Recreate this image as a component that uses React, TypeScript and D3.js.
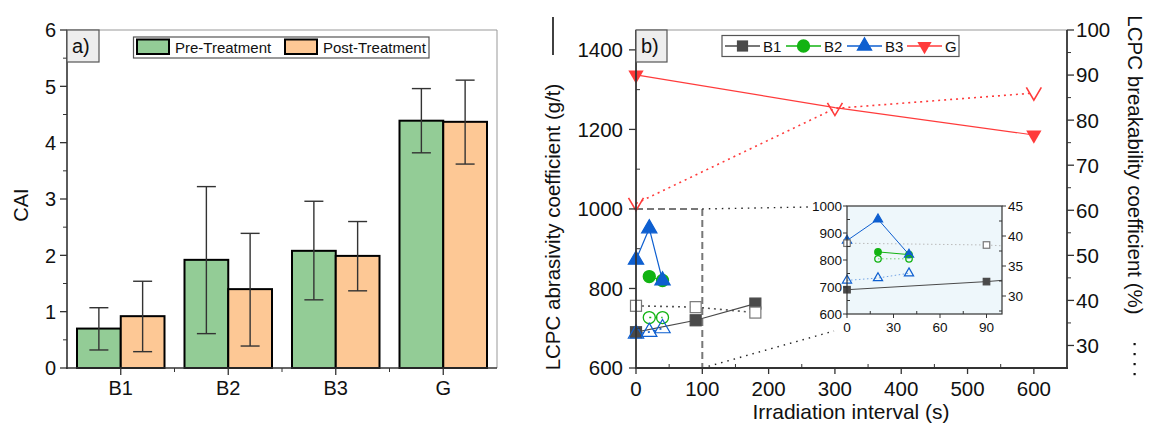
import React from 'react';
import * as d3 from 'd3';

// panel a) CAI bars
const categories = ['B1', 'B2', 'B3', 'G'];
const preCAI = [0.7, 1.92, 2.08, 4.39];
const postCAI = [0.92, 1.4, 1.99, 4.37];
const preLow = [0.32, 0.61, 1.21, 3.82];
const preHigh = [1.07, 3.22, 2.96, 4.96];
const postLow = [0.29, 0.39, 1.37, 3.62];
const postHigh = [1.54, 2.39, 2.6, 5.11];
const caiTicks = [0, 1, 2, 3, 4, 5, 6];

// panel b) LCPC vs irradiation interval
const b1Time = [0, 90, 180];
const b1Abr = [690, 720, 762];
const b1Brk = [38.8, 38.5, 37.3];
const b2Time = [20, 40];
const b2Abr = [830, 820];
const b2Brk = [36.2, 36.2];
const b3Time = [0, 20, 40];
const b3Abr = [872, 951, 820];
const b3Brk = [32.6, 33.0, 33.8];
const gTime = [0, 300, 600];
const gAbr = [1337, 1255, 1186];
const gBrk = [61.5, 82.6, 86.0];

const timeTicks = [0, 100, 200, 300, 400, 500, 600];
const abrTicks = [600, 800, 1000, 1200, 1400];
const brkTicks = [30, 40, 50, 60, 70, 80, 90, 100];
const insetTimeTicks = [0, 30, 60, 90];
const insetAbrTicks = [600, 700, 800, 900, 1000];
const insetBrkTicks = [30, 35, 40, 45];

const FONT = '"Liberation Sans", Arial, Helvetica, sans-serif';
const INK = '#111';
const GREEN_FILL = '#93cc96';
const ORANGE_FILL = '#fdc895';
const C_B1 = '#4a4a4a';
const C_B2 = '#12b312';
const C_B3 = '#0e5fd0';
const C_G = '#ff3b3b';

const symPath = (type: any, size: number) => d3.symbol().type(type).size(size)() as string;
const vPath = (s: number) => `M${-s},${-s * 0.75}L0,${s * 0.95}L${s},${-s * 0.75}`;

const series = [
  { name: 'B1', t: b1Time, abr: b1Abr, brk: b1Brk, color: C_B1, shape: 'square' },
  { name: 'B2', t: b2Time, abr: b2Abr, brk: b2Brk, color: C_B2, shape: 'circle' },
  { name: 'B3', t: b3Time, abr: b3Abr, brk: b3Brk, color: C_B3, shape: 'up' },
  { name: 'G', t: gTime, abr: gAbr, brk: gBrk, color: C_G, shape: 'down' },
];

function Marker({ shape, x, y, color, filled, s }: any) {
  const tr = `translate(${x},${y})`;
  if (shape === 'square') {
    return <rect x={x - s / 2} y={y - s / 2} width={s} height={s}
      fill={filled ? color : '#fff'} stroke={filled ? color : '#777'} strokeWidth={1.2} />;
  }
  if (shape === 'circle') {
    return <circle cx={x} cy={y} r={s / 2} fill={filled ? color : 'none'} stroke={color} strokeWidth={1.3} />;
  }
  if (shape === 'up') {
    return <path transform={tr} d={symPath(d3.symbolTriangle, s * s * 0.45)}
      fill={filled ? color : 'none'} stroke={color} strokeWidth={1.2} />;
  }
  if (filled) {
    return <path transform={`${tr} rotate(180)`} d={symPath(d3.symbolTriangle, s * s * 0.45)} fill={color} />;
  }
  return <path transform={tr} d={vPath(s / 2)} fill="none" stroke={color} strokeWidth={1.6} />;
}

function PanelA() {
  const x = d3.scaleBand().domain(categories).range([67, 497]).padding(0);
  const sub = d3.scaleBand().domain(['pre', 'post']).range([10, x.bandwidth() - 10]);
  const y = d3.scaleLinear().domain([0, 6]).range([368, 30]);
  const minor = d3.range(0.5, 6, 1);
  const groups = [
    { key: 'pre', vals: preCAI, lo: preLow, hi: preHigh, fill: GREEN_FILL },
    { key: 'post', vals: postCAI, lo: postLow, hi: postHigh, fill: ORANGE_FILL },
  ];
  return (
    <g>
      <line x1={67} x2={497} y1={30} y2={30} stroke="#999" />
      <line x1={497} x2={497} y1={30} y2={368} stroke="#999" />
      {groups.map(g => categories.map((c, i) => {
        const bx = (x(c) as number) + (sub(g.key) as number);
        const bw = sub.bandwidth();
        const cx = bx + bw / 2;
        return (
          <g key={g.key + c}>
            <rect x={bx} y={y(g.vals[i])} width={bw} height={y(0) - y(g.vals[i])}
              fill={g.fill} stroke="#000" strokeWidth={2} />
            <g stroke="#333" strokeWidth={1.4}>
              <line x1={cx} x2={cx} y1={y(g.lo[i])} y2={y(g.hi[i])} />
              <line x1={cx - 9.5} x2={cx + 9.5} y1={y(g.lo[i])} y2={y(g.lo[i])} />
              <line x1={cx - 9.5} x2={cx + 9.5} y1={y(g.hi[i])} y2={y(g.hi[i])} />
            </g>
          </g>
        );
      }))}
      {/* axes */}
      <line x1={67} x2={67} y1={30} y2={369} stroke="#333" strokeWidth={1.6} />
      <line x1={66} x2={497} y1={368} y2={368} stroke="#333" strokeWidth={1.6} />
      {caiTicks.map(t => (
        <g key={t}>
          <line x1={60} x2={67} y1={y(t)} y2={y(t)} stroke="#333" strokeWidth={1.3} />
          <text x={56} y={y(t)} dy="0.36em" textAnchor="end" fontSize={20} fill={INK}>{t}</text>
        </g>
      ))}
      {minor.map(t => <line key={t} x1={63} x2={67} y1={y(t)} y2={y(t)} stroke="#333" strokeWidth={1} />)}
      {categories.map(c => {
        const cx = (x(c) as number) + x.bandwidth() / 2;
        return (
          <g key={c}>
            <line x1={cx} x2={cx} y1={368} y2={375} stroke="#333" strokeWidth={1.3} />
            <text x={cx} y={388} dy="0.36em" textAnchor="middle" fontSize={20} fill={INK}>{c}</text>
          </g>
        );
      })}
      {categories.slice(1).map(c => (
        <line key={c} x1={x(c)} x2={x(c)} y1={368} y2={372} stroke="#333" strokeWidth={1} />
      ))}
      <text transform={`translate(28,205) rotate(-90)`} textAnchor="middle" fontSize={20} fill={INK}>CAI</text>
      {/* a) tag */}
      <rect x={67} y={30} width={32} height={32} fill="#eeeeee" stroke="#555" strokeWidth={1.2} />
      <text x={72} y={53} fontSize={20} fill={INK}>a)</text>
      {/* legend */}
      <rect x={133.5} y={37} width={295.5} height={21} fill="#fff" stroke="#555" strokeWidth={1.2} />
      <rect x={137} y={39.5} width={32} height={14.5} fill={GREEN_FILL} stroke="#000" strokeWidth={2} />
      <text x={175} y={53} fontSize={15} fill={INK}>Pre-Treatment</text>
      <rect x={285} y={39.5} width={32} height={14.5} fill={ORANGE_FILL} stroke="#000" strokeWidth={2} />
      <text x={323} y={53} fontSize={15} fill={INK}>Post-Treatment</text>
    </g>
  );
}

function PanelB() {
  const x = d3.scaleLinear().domain([0, 650]).range([636, 1067]);
  const yA = d3.scaleLinear().domain([600, 1450]).range([368, 30]);
  const yB = d3.scaleLinear().domain([25, 100]).range([368, 30]);
  const xi = d3.scaleLinear().domain([0, 100]).range([847, 1002]);
  const yiA = d3.scaleLinear().domain([600, 1000]).range([314, 206]);
  const yiB = d3.scaleLinear().domain([27, 45]).range([314, 206]);

  const pts = (t: number[], v: number[]) => t.map((tt, i) => [tt, v[i]] as [number, number]);
  const mainLine = (sx: any, sy: any) => d3.line<[number, number]>().x(d => sx(d[0])).y(d => sy(d[1]));

  const mainSeries = series.map(s => ({
    ...s,
    abrPts: pts(s.t, s.abr),
    brkPts: pts(s.t, s.brk),
  }));

  const inDom = (sx: any, sy: any, p: [number, number]) => {
    const [dx0, dx1] = sx.domain();
    const [dy0, dy1] = sy.domain();
    return p[0] >= dx0 && p[0] <= dx1 && p[1] >= dy0 && p[1] <= dy1;
  };

  const legendX = [725, 786, 847, 907];

  return (
    <g>
      {/* frame */}
      <line x1={636} x2={1067} y1={30} y2={30} stroke="#999" />

      {/* zoom box and connectors */}
      <g stroke="#777" strokeWidth={2} strokeDasharray="7 4" fill="none">
        <line x1={x(0)} x2={x(100)} y1={yA(1000)} y2={yA(1000)} />
        <line x1={x(100)} x2={x(100)} y1={yA(1000)} y2={yA(600)} />
      </g>
      <g stroke="#222" strokeWidth={1.4} strokeDasharray="1.5 5" fill="none">
        <line x1={x(100)} x2={810} y1={yA(1000)} y2={207} />
        <line x1={x(100)} x2={834} y1={yA(600)} y2={331} />
      </g>

      {/* breakability: dotted + open markers */}
      {mainSeries.map(s => (
        <path key={'bl' + s.name} d={mainLine(x, yB)(s.brkPts) as string} fill="none"
          stroke={s.name === 'B1' ? '#555' : s.color} strokeWidth={1.6} strokeDasharray="2 4" />
      ))}
      {/* abrasivity: solid + filled markers */}
      {mainSeries.map(s => (
        <path key={'al' + s.name} d={mainLine(x, yA)(s.abrPts) as string} fill="none"
          stroke={s.color} strokeWidth={1.2} />
      ))}
      {mainSeries.map(s => s.abrPts.map((p, i) => (
        (s.name === 'G' && i === 1) ? null :
        <Marker key={'am' + s.name + i} shape={s.shape} x={x(p[0])} y={yA(p[1])} color={s.color} filled s={s.shape === 'circle' ? 12 : (s.shape === 'square' ? 11 : 15)} />
      )))}
      {mainSeries.map(s => s.brkPts.map((p, i) => (
        <Marker key={'bm' + s.name + i} shape={s.shape} x={x(p[0])} y={yB(p[1])} color={s.color} filled={false} s={s.shape === 'circle' ? 12 : (s.shape === 'square' ? 11 : 15)} />
      )))}

      {/* axes */}
      <line x1={636} x2={636} y1={30} y2={369} stroke="#333" strokeWidth={1.8} />
      <line x1={1067} x2={1067} y1={30} y2={369} stroke="#333" strokeWidth={1.8} />
      <line x1={635} x2={1068} y1={368} y2={368} stroke="#333" strokeWidth={1.8} />
      {abrTicks.map(t => (
        <g key={t}>
          <line x1={629} x2={636} y1={yA(t)} y2={yA(t)} stroke="#333" strokeWidth={1.3} />
          <text x={623} y={yA(t)} dy="0.36em" textAnchor="end" fontSize={20.5} fill={INK}>{t}</text>
        </g>
      ))}
      {[700, 900, 1100, 1300].map(t => (
        <line key={t} x1={636} x2={640} y1={yA(t)} y2={yA(t)} stroke="#333" strokeWidth={1} />
      ))}
      {brkTicks.map(t => (
        <g key={t}>
          <line x1={1067} x2={1074} y1={yB(t)} y2={yB(t)} stroke="#333" strokeWidth={1.3} />
          <text x={1076} y={yB(t)} dy="0.36em" textAnchor="start" fontSize={20.5} fill={INK}>{t}</text>
        </g>
      ))}
      {d3.range(35, 100, 10).map(t => (
        <line key={t} x1={1067} x2={1071} y1={yB(t)} y2={yB(t)} stroke="#333" strokeWidth={1} />
      ))}
      {timeTicks.map(t => (
        <g key={t}>
          <line x1={x(t)} x2={x(t)} y1={368} y2={374} stroke="#333" strokeWidth={1.3} />
          <text x={x(t)} y={389} dy="0.36em" textAnchor="middle" fontSize={20.5} fill={INK}>{t}</text>
        </g>
      ))}
      {d3.range(50, 650, 100).map(t => (
        <line key={t} x1={x(t)} x2={x(t)} y1={364} y2={368} stroke="#333" strokeWidth={1} />
      ))}
      <text x={851} y={419} textAnchor="middle" fontSize={21} fill={INK}>Irradiation interval (s)</text>
      <text transform="translate(560,227) rotate(-90)" textAnchor="middle" fontSize={20.5} fill={INK}>
        LCPC abrasivity coefficient (g/t)
      </text>
      <line x1={553} x2={553} y1={17} y2={55} stroke={INK} strokeWidth={1.6} />
      <text transform="translate(1128,165) rotate(90)" textAnchor="middle" fontSize={20.5} fill={INK}>
        LCPC breakability coefficient (%)
      </text>
      {[343, 353, 363, 373].map(d => (
        <rect key={d} x={1133.5} y={d} width={2.2} height={2.2} fill={INK} />
      ))}

      {/* b) tag */}
      <rect x={636} y={30} width={31} height={32} fill="#eeeeee" stroke="#555" strokeWidth={1.2} />
      <text x={641} y={53} fontSize={20} fill={INK}>b)</text>

      {/* legend */}
      <rect x={722} y={35.5} width={237} height={21} fill="#fff" stroke="#555" strokeWidth={1.2} />
      {series.map((s, i) => (
        <g key={s.name}>
          <line x1={legendX[i]} x2={legendX[i] + 35} y1={46} y2={46} stroke={s.color} strokeWidth={1.3} />
          <Marker shape={s.shape} x={legendX[i] + 17.5} y={46} color={s.color} filled s={s.shape === 'circle' ? 12 : (s.shape === 'square' ? 10 : 14)} />
          <text x={legendX[i] + 38} y={52} fontSize={15} fill={INK}>{s.name}</text>
        </g>
      ))}

      {/* inset */}
      <defs>
        <clipPath id="insetClip">
          <rect x={847} y={206} width={155} height={108} />
        </clipPath>
      </defs>
      <rect x={847} y={206} width={155} height={108} fill="#eef7fb" />
      <g clipPath="url(#insetClip)">
        {mainSeries.map(s => (
          <path key={'ib' + s.name} d={mainLine(xi, yiB)(s.brkPts) as string} fill="none"
            stroke={s.name === 'B1' ? '#bbb' : s.color} strokeOpacity={s.name === 'B1' ? 1 : 0.55}
            strokeWidth={1} strokeDasharray="1.5 2.5" />
        ))}
        {mainSeries.map(s => (
          <path key={'ia' + s.name} d={mainLine(xi, yiA)(s.abrPts) as string} fill="none"
            stroke={s.color} strokeWidth={1} />
        ))}
      </g>
      {mainSeries.map(s => s.abrPts.filter(p => inDom(xi, yiA, p)).map((p, i) => (
        <Marker key={'iam' + s.name + i} shape={s.shape} x={xi(p[0])} y={yiA(p[1])} color={s.color} filled s={s.shape === 'up' ? 9 : 6.5} />
      )))}
      {mainSeries.map(s => s.brkPts.filter(p => inDom(xi, yiB, p)).map((p, i) => (
        <Marker key={'ibm' + s.name + i} shape={s.shape} x={xi(p[0])} y={yiB(p[1])} color={s.color} filled={false} s={s.shape === 'up' ? 9 : 6.5} />
      )))}
      <rect x={847} y={206} width={155} height={108} fill="none" stroke="#333" strokeWidth={1.2} />
      {insetAbrTicks.map(t => (
        <g key={t}>
          <line x1={843} x2={847} y1={yiA(t)} y2={yiA(t)} stroke="#333" />
          <text x={842} y={yiA(t)} dy="0.36em" textAnchor="end" fontSize={13.5} fill={INK}>{t}</text>
        </g>
      ))}
      {[650, 750, 850, 950].map(t => (
        <line key={t} x1={847} x2={850} y1={yiA(t)} y2={yiA(t)} stroke="#333" />
      ))}
      {insetBrkTicks.map(t => (
        <g key={t}>
          <line x1={1002} x2={1006} y1={yiB(t)} y2={yiB(t)} stroke="#333" />
          <text x={1008} y={yiB(t)} dy="0.36em" textAnchor="start" fontSize={13.5} fill={INK}>{t}</text>
        </g>
      ))}
      {[27.5, 32.5, 37.5, 42.5].map(t => (
        <line key={t} x1={999} x2={1002} y1={yiB(t)} y2={yiB(t)} stroke="#333" />
      ))}
      {insetTimeTicks.map(t => (
        <g key={t}>
          <line x1={xi(t)} x2={xi(t)} y1={314} y2={318} stroke="#333" />
          <text x={xi(t)} y={327} dy="0.36em" textAnchor="middle" fontSize={13.5} fill={INK}>{t}</text>
        </g>
      ))}
      {[15, 45, 75].map(t => (
        <line key={t} x1={xi(t)} x2={xi(t)} y1={311} y2={314} stroke="#333" />
      ))}
    </g>
  );
}

export default function App() {
  return (
    <svg width={1149} height={433} style={{ display: 'block', position: 'absolute', left: 0, top: 0, background: '#fff' }}
      fontFamily={FONT}>
      <rect width={1149} height={433} fill="#fff" />
      <PanelA />
      <PanelB />
    </svg>
  );
}
